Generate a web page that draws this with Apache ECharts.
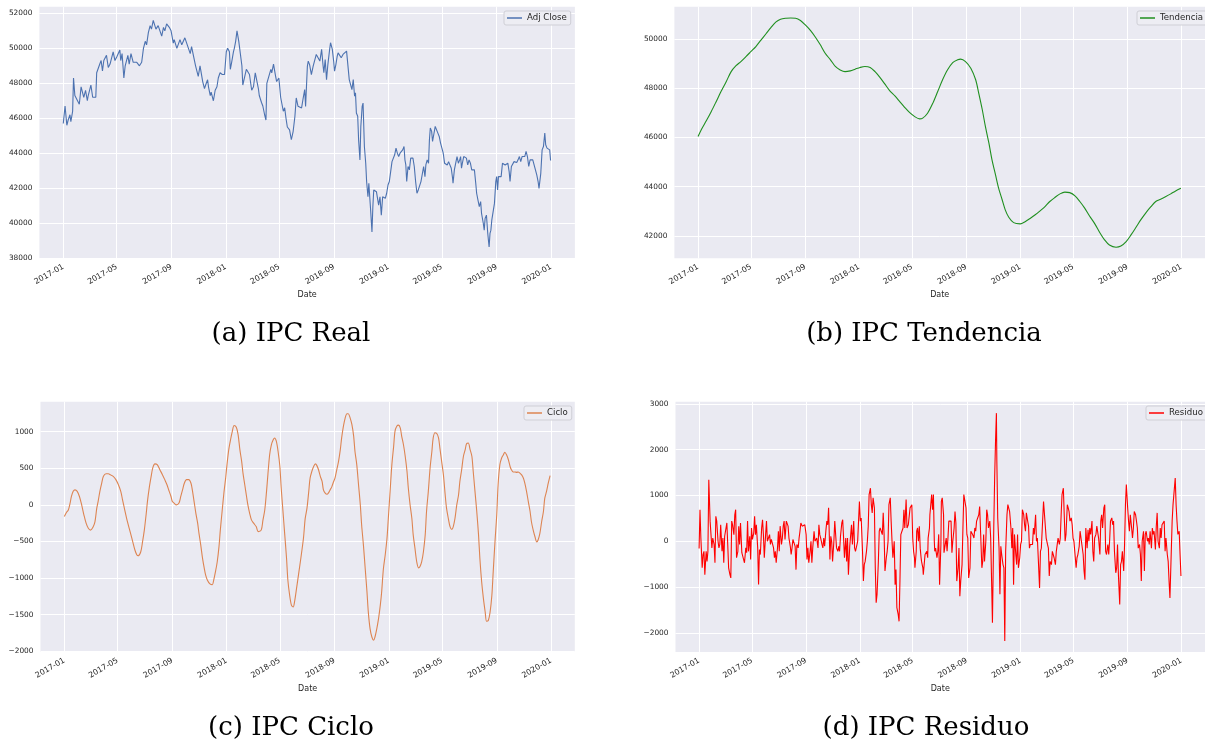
<!DOCTYPE html>
<html>
<head>
<meta charset="utf-8">
<script src="https://cdn.jsdelivr.net/npm/echarts@6/dist/echarts.min.js"></script>
<style>
html,body{margin:0;padding:0;background:#fff;}
#chart{width:1205px;height:747px;}
</style>
</head>
<body>
<div id="chart"></div>
<script>
// x values are days after 2017-01-01
const xTickLabels = ['2017-01','2017-05','2017-09','2018-01','2018-05','2018-09','2019-01','2019-05','2019-09','2020-01'];
const seriesNames = ['Adj Close','Tendencia','Ciclo','Residuo'];
const captions = ['(a) IPC Real','(b) IPC Tendencia','(c) IPC Ciclo','(d) IPC Residuo'];
const yTicksReal = [38000,40000,42000,44000,46000,48000,50000,52000];
const yTicksTrend = [42000,44000,46000,48000,50000];
const yTicksCycle = [-2000,-1500,-1000,-500,0,500,1000];
const yTicksResid = [-2000,-1000,0,1000,2000,3000];

const realData = [
[0,45700],[4,46700],[8,45600],[11,45900],[15,46200],[17,45800],[21,46400],[23,48300],[26,47300],[30,47100],[34,47100],[36,46800],[40,47800],[43,47700],[46,47200],[50,47600],[54,47000],[56,47300],[58,47500],[62,47900],[66,47200],[70,47100],[73,47200],[75,48600],[79,48600],[82,49100],[85,49300],[88,48700],[91,49300],[97,49600],[101,48900],[105,49100],[112,49800],[116,49300],[120,49500],[127,49900],[129,49300],[132,49700],[136,48300],[139,49000],[145,49600],[148,49100],[152,49700],[157,49200],[165,49200],[171,49000],[176,49200],[180,50000],[184,50400],[187,50200],[191,50900],[195,51300],[198,51100],[202,51600],[208,51100],[213,51300],[217,51300],[221,50700],[225,51200],[228,51000],[232,51400],[238,51200],[242,51000],[247,50300],[249,50500],[255,50000],[262,50500],[266,50200],[273,50600],[281,50000],[285,49700],[288,50100],[291,50000],[297,49000],[300,49100],[303,48400],[307,49000],[311,48400],[313,48100],[317,47700],[321,48000],[324,48200],[326,47800],[330,47300],[332,47500],[337,47000],[341,47600],[345,47800],[348,48300],[352,48600],[357,48500],[362,48500],[366,49800],[369,50000],[373,49800],[375,48800],[378,49200],[382,49800],[384,50000],[387,50400],[390,51000],[392,50700],[394,50400],[396,50500],[401,49000],[403,47900],[407,47800],[411,48800],[414,48900],[418,48500],[423,47600],[427,47800],[431,48600],[435,48700],[438,47700],[440,47300],[445,46900],[448,46700],[452,46200],[455,45900],[457,48000],[461,48100],[466,48800],[468,48600],[472,49100],[476,48500],[479,48100],[484,48300],[488,47200],[491,46800],[494,46400],[497,46600],[500,46000],[503,45500],[506,45600],
[508,45340],[512,44770],[516,45240],[520,46100],[523,47160],[527,46680],[531,46780],[535,46590],[538,47060],[542,47640],[544,46680],[548,48980],[550,49270],[553,49070],[557,48500],[561,48980],[565,48880],[568,49650],[572,49740],[576,49270],[580,49940],[583,49070],[585,48600],[588,49360],[591,48210],[594,49070],[598,49940],[600,50320],[602,50410],[604,49940],[607,49270],[609,48690],[612,49070],[615,49550],[617,49740],[621,49650],[624,49460],[628,49650],[632,49740],[636,49840],[639,49840],[642,48210],[645,48120],[648,47640],[651,48210],[654,47260],[656,47450],[658,46300],[661,46110],[663,44770],[666,43620],[668,45530],[671,46680],[673,46870],[676,44380],[679,43430],[681,42380],[684,41510],[686,42280],[688,41510],[690,40750],[693,39500],[695,40940],[697,41900],[700,41990],[703,41800],[705,41900],[708,41030],[711,41510],[714,40460],[717,41510],[720,41610],[723,41420],[726,41710],[729,42180],[732,42380],[735,42950],[738,43520],[741,43620],[744,43910],[747,44290],[750,44000],[753,43810],[756,44000],[759,43910],[762,44190],[765,44380],[767,43620],[769,43330],[771,42380],[774,43240],[777,43050],[780,43720],[783,43810],[785,43720],[788,43240],[791,42380],[794,41710],[797,41900],[800,41900],[803,42380],[806,42380],[809,43240],[812,42660],[814,43330],[817,43620],[820,43430],[822,44770],[824,45440],[827,45250],[829,44670],[832,44770],[835,45530],[838,45440],[841,45150],[844,44960],[847,44580],[850,44290],[853,44000],[856,43430],[859,43430],[862,43330],[865,43520],[868,43520],[871,43140],[874,42570],[875,42280],[878,43050],[881,43430],[884,43810],[887,43430],[890,43620],[892,43810],[894,43140],[896,43430],[899,43810],[902,43810],[905,43720],[908,43330],[911,43620],[914,43430],[917,43050],[920,42950],[923,43050],[926,42280],[928,41710],[931,41320],[934,40940],[937,41230],[939,40560],[943,39980],[945,39600],[947,40270],[950,40460],[953,39410],[956,38640],[958,39410],[960,39600],[962,40170],[965,40080],[968,41130],[971,42380],[973,42660],[975,41900],[977,42660],[980,42760],[983,42660],[986,43430],[989,43520],[992,43330],[995,43240],[998,43430],[1001,42950],[1003,42380],[1006,43240],[1009,43330],[1012,43520],[1015,43430],[1018,43470],[1021,43620],[1024,43810],[1027,43520],[1030,43810],[1033,43850],[1036,43810],[1039,44100],[1042,43810],[1045,43240],[1048,43620],[1051,43520],[1054,43620],[1057,43520],[1060,43050],[1063,42760],[1066,42380],[1068,41990],[1070,41990],[1072,42850],[1075,44190],[1078,44380],[1081,45150],[1083,44480],[1086,44290],[1089,44290],[1092,44190],[1094,43580]
];

const trendData = [
[0,46040],[7,46310],[19,46690],[30,47060],[41,47460],[52,47870],[64,48280],[75,48680],[86,48920],[97,49090],[109,49300],[120,49500],[131,49700],[142,49950],[154,50220],[165,50470],[176,50690],[187,50810],[199,50850],[210,50860],[221,50850],[232,50760],[243,50580],[255,50350],[266,50080],[277,49770],[288,49430],[300,49160],[311,48890],[322,48750],[333,48680],[345,48710],[356,48780],[367,48850],[378,48890],[390,48850],[401,48680],[412,48450],[423,48180],[434,47910],[446,47690],[457,47460],[468,47230],[479,47020],[491,46850],[502,46760],[509,46790],
[520,46990],[532,47400],[543,47870],[554,48350],[565,48750],[577,49050],[588,49160],[595,49190],[606,49090],[618,48820],[629,48350],[636,47800],[644,47130],[651,46450],[659,45770],[666,45090],[674,44480],[681,43940],[689,43470],[696,43060],[704,42760],[715,42540],[730,42490],[741,42580],[753,42720],[764,42860],[775,43020],[786,43190],[797,43400],[809,43570],[820,43710],[831,43780],[842,43760],[854,43630],[865,43400],[876,43130],[887,42810],[899,42490],[910,42140],[921,41840],[932,41630],[947,41540],[958,41590],[970,41770],[981,42040],[992,42340],[1003,42650],[1015,42950],[1026,43190],[1037,43400],[1048,43490],[1060,43600],[1071,43710],[1082,43830],[1094,43940]
];

const cycleData = [
[0,-160],[5,-100],[9,-70],[13,25],[16,115],[20,185],[24,205],[29,185],[34,115],[39,0],[44,-135],[49,-250],[54,-320],[59,-345],[65,-300],[69,-230],[73,-45],[76,45],[80,185],[84,295],[88,390],[94,425],[99,425],[104,410],[110,390],[116,345],[121,285],[127,185],[131,70],[136,-70],[142,-230],[148,-365],[154,-505],[159,-620],[163,-680],[166,-695],[172,-640],[176,-505],[180,-345],[184,-135],[187,45],[191,230],[195,375],[199,505],[204,560],[209,550],[215,480],[221,410],[226,345],[231,275],[236,185],[240,115],[243,45],[247,25],[252,0],[258,25],[262,115],[266,205],[270,295],[275,345],[280,345],[285,295],[288,205],[292,45],[296,-115],[300,-250],[303,-390],[307,-550],[311,-730],[315,-870],[318,-960],[322,-1030],[327,-1075],[333,-1090],[336,-1030],[340,-915],[344,-780],[348,-570],[351,-345],[355,-90],[359,160],[363,365],[366,550],[370,755],[374,890],[378,1005],[382,1085],[387,1060],[391,960],[395,755],[399,595],[402,435],[406,275],[410,115],[413,0],[417,-115],[421,-205],[426,-250],[432,-300],[436,-365],[443,-345],[447,-205],[451,-70],[455,185],[458,410],[462,685],[466,825],[470,890],[473,915],[477,870],[481,730],[485,525],[488,230],[492,-90],[496,-410],[500,-730],[503,-1030],[507,-1235],[511,-1370],[515,-1395],[518,-1325],
[523,-1120],[531,-780],[538,-460],[542,-185],[546,-45],[550,185],[553,365],[557,460],[561,525],[565,560],[568,540],[572,480],[576,390],[580,320],[583,205],[587,160],[591,145],[594,160],[598,205],[602,250],[606,320],[609,365],[613,480],[617,595],[621,755],[624,915],[628,1075],[632,1190],[636,1245],[639,1245],[643,1190],[647,1100],[651,940],[654,730],[658,550],[662,275],[666,0],[669,-275],[673,-550],[677,-870],[681,-1190],[684,-1465],[688,-1695],[692,-1805],[696,-1850],[699,-1805],[703,-1695],[707,-1555],[711,-1370],[714,-1190],[718,-870],[722,-685],[726,-460],[729,-185],[733,185],[737,550],[741,800],[744,1005],[748,1075],[752,1090],[756,1050],[759,940],[763,825],[767,665],[771,460],[774,230],[778,0],[782,-185],[785,-410],[789,-595],[793,-780],[797,-860],[800,-845],[804,-780],[808,-640],[812,-410],[815,-90],[819,185],[823,505],[827,730],[830,915],[834,985],[838,975],[842,915],[845,780],[849,595],[853,410],[857,135],[860,-45],[864,-185],[868,-300],[872,-335],[875,-300],[879,-185],[883,0],[887,135],[890,320],[894,480],[898,665],[902,755],[905,835],[909,845],[913,755],[917,665],[920,460],[924,185],[928,-90],[932,-410],[935,-730],[939,-1050],[943,-1280],[947,-1465],[950,-1590],[954,-1580],[958,-1465],[962,-1235],[965,-915],[969,-505],[973,-135],[976,275],[980,550],[984,640],[988,685],[991,720],[995,685],[999,620],[1003,525],[1006,480],[1010,450],[1014,450],[1018,445],[1021,450],[1025,435],[1029,410],[1033,365],[1036,300],[1040,185],[1044,45],[1048,-90],[1051,-230],[1055,-345],[1059,-435],[1063,-505],[1066,-480],[1070,-390],[1074,-230],[1078,-90],[1081,90],[1085,185],[1089,300],[1093,400]
];

const residData = [
[0,-160],[2,690],[4,70],[7,-580],[9,-290],[11,-220],[13,-730],[16,-220],[18,-440],[20,-220],[22,1345],[25,440],[27,145],[29,-145],[31,70],[34,-70],[36,-470],[38,545],[40,440],[43,0],[45,-145],[47,-70],[49,360],[52,-220],[54,70],[56,-470],[58,110],[61,70],[63,400],[65,-70],[67,-580],[70,-730],[72,-800],[74,440],[76,360],[79,145],[81,580],[83,690],[85,-360],[88,-220],[90,330],[92,-70],[94,400],[97,-250],[99,-250],[101,-290],[103,-470],[106,-145],[108,-250],[110,440],[112,-220],[115,110],[117,-400],[119,290],[121,40],[124,180],[126,545],[128,145],[130,360],[133,-145],[135,-945],[137,-180],[139,-290],[142,290],[144,470],[146,145],[148,-360],[151,145],[153,440],[155,0],[157,-40],[160,145],[162,-70],[164,40],[166,0],[169,-145],[171,-360],[173,-220],[175,-470],[178,-145],[180,220],[182,-220],[184,330],[187,-70],[189,70],[191,330],[193,440],[195,40],[198,440],[200,470],[202,330],[204,70],[207,-110],[209,-290],[211,-145],[213,40],[216,70],[218,-110],[220,-620],[222,-70],[225,-145],[227,70],[229,220],[231,400],[234,330],[236,360],[238,330],[240,360],[243,145],[245,-400],[247,-145],[249,-470],[252,-220],[254,0],[256,-470],[258,-145],[261,220],[263,0],[265,-40],[267,70],[270,-145],[272,360],[274,145],[276,70],[279,-70],[281,-145],[283,70],[285,-110],[288,250],[290,440],[292,360],[294,730],[297,-400],[299,110],[301,0],[303,-440],[306,0],[308,440],[310,470],[312,-145],[315,-220],[317,-110],[319,-220],[321,110],[324,400],[326,470],[328,70],[330,-360],[333,70],[335,-440],[337,70],[339,-730],[342,-110],[344,-70],[346,360],[348,-70],[351,440],[353,-145],[355,-220],[357,-250],[360,0],[362,440],[364,870],[366,440],[368,510],[371,-220],[373,-870],[375,-510],[377,-440],[380,-220],[382,0],[384,330],[386,1020],[389,1160],[391,800],[393,620],[395,950],[398,730],[400,-580],[402,-1345],[404,-1160],[407,-440],[409,220],[411,290],[413,330],[416,145],[418,620],[420,145],[422,-650],[425,-360],[427,-220],[429,0],[431,800],[434,950],[436,440],[438,0],[440,-360],[443,0],[445,-950],[447,-620],[449,-1450],[452,-1600],[454,-1750],[456,-870],[458,145],[461,145],[463,290],[465,690],[467,290],[470,910],[472,290],
[475,360],[479,730],[483,800],[485,70],[487,-220],[489,-360],[490,-580],[493,-220],[494,220],[496,290],[498,0],[500,330],[502,-150],[504,-360],[505,-440],[508,-580],[509,-730],[511,-730],[513,-290],[517,-220],[519,-360],[520,70],[523,290],[524,580],[526,800],[528,1020],[530,690],[532,1020],[534,0],[535,-220],[537,-150],[540,-360],[542,-220],[544,150],[546,-950],[549,-70],[550,870],[552,950],[555,580],[556,-250],[558,-290],[561,70],[563,-220],[565,70],[567,440],[570,400],[572,440],[574,-250],[576,0],[579,290],[581,650],[583,400],[585,-870],[588,-580],[590,-150],[592,-1200],[594,-870],[597,-510],[599,290],[601,1020],[603,1050],[606,730],[608,150],[610,70],[612,-800],[615,-580],[617,220],[619,220],[621,150],[624,70],[626,290],[628,220],[630,440],[633,400],[635,580],[637,760],[639,220],[642,-580],[644,-440],[646,150],[648,-440],[651,0],[653,690],[655,580],[657,290],[660,440],[662,70],[664,-840],[666,-1780],[669,290],[671,1380],[673,2180],[675,2800],[676,1750],[678,510],[681,-150],[683,-1160],[685,-110],[687,-290],[690,-510],[692,-580],[694,-2180],[696,-220],[699,580],[701,800],[703,840],[705,650],[708,290],[710,-150],[712,290],[714,-950],[716,150],[719,-290],[721,-510],[723,150],[725,-580],[728,-360],[730,-70],[732,0],[734,690],[737,580],[739,360],[741,220],[743,620],[746,440],[748,330],[750,-150],[752,-70],[755,-110],[757,-70],[759,290],[761,150],[764,580],[766,0],[768,70],[770,-360],[773,-1020],[775,-220],[777,-150],[779,-150],[782,870],[784,840],[786,870],[788,70],[791,-70],[793,-150],[795,-760],[797,-440],[800,-510],[802,-220],[804,-220],[806,-360],[809,-510],[811,-220],[813,-220],[815,70],[818,-70],[820,70],[822,580],[824,1020],[827,1160],[829,580],[831,0],[833,150],[836,800],[838,730],[840,650],[842,440],[845,510],[847,360],[849,70],[851,0],[854,0],[856,-580],[858,-360],[860,-290],[863,-110],[865,220],[867,250],[869,-70],[872,-290],[874,-650],[876,-840],[878,290],[881,-150],[883,250],[885,0],[887,290],[889,150],[892,440],[894,-220],[896,-440],[898,70],[901,150],[903,330],[905,290],[907,70],[910,-290],[912,440],[914,580],[916,290],[919,730],[921,800],[923,-220],[925,-290],[928,-70],[930,-290],[932,0],[934,440],[937,510],[939,360],[941,440],[943,-220],[946,-690],[948,-580],[950,-70],[952,-730],[955,-1380],[957,-510],[959,-440],[961,-220],[964,-650],[966,-70],[968,800],[970,1240],[973,730],[975,440],[977,220],[979,580],[982,290],[984,70],[986,290],[988,650],[991,580],[993,440],[995,290],[997,-150],[1000,-70],[1002,-290],[1004,-870],[1006,0],[1009,220],[1011,-650],[1013,150],[1015,220],[1018,0],[1020,70],[1022,-70],[1024,220],[1027,-150],[1029,290],[1031,150],[1033,220],[1036,-180],[1038,330],[1040,620],[1042,0],[1045,-150],[1047,290],[1049,70],[1051,360],[1054,360],[1056,440],[1058,-220],[1060,70],[1063,-290],[1065,-440],[1067,-870],[1069,-1240],[1072,-1270],[1074,440],[1076,800],[1078,800],[1081,1380],[1083,800],[1085,440],[1087,150],[1090,220],[1092,-290],[1094,-760]
];

const DAY = 86400000;
const T0 = Date.UTC(2017, 0, 1);
// tick positions in days after 2017-01-01, derived from the tick labels
const xTickDays = xTickLabels.map(s => (Date.UTC(+s.slice(0,4), +s.slice(5,7) - 1, 1) - T0) / DAY);
const fmtX = v => { const i = xTickDays.indexOf(v); return i >= 0 ? xTickLabels[i] : ''; };
const fmtY = v => v < 0 ? '\u2212' + (-v) : String(v);

const datasets = [realData, trendData, cycleData, residData];
const colors = ['#4C72B0', '#1f8f1f', '#DD8452', '#ff0000'];
const yTicks = [yTicksReal, yTicksTrend, yTicksCycle, yTicksResid];
const yRange = [[37990, 52380], [41090, 51320], [-2010, 1410], [-2420, 3050]];
const smoothFlags = [false, 0.3, 0.3, false];

const grids = [
  {left: 39.4, top: 6.7, width: 535.5, height: 251.6},
  {left: 674.4, top: 6.7, width: 535.5, height: 251.6},
  {left: 40.5, top: 401.7, width: 534.3, height: 250.3},
  {left: 675.5, top: 401.7, width: 533.6, height: 250.3}
];
const legendPos = [{left: 504, top: 11}, {left: 1137, top: 11}, {left: 524, top: 406}, {left: 1146, top: 406}];
const captionPos = [[291, 334], [924, 334], [291, 728], [926, 728]];

const FONT = 'DejaVu Sans';
const TXT = '#262626';

const option = {
  animation: false,
  backgroundColor: '#ffffff',
  textStyle: {fontFamily: FONT},
  grid: grids.map(g => Object.assign({show: true, backgroundColor: '#EAEAF2', borderWidth: 0, containLabel: false}, g)),
  xAxis: grids.map((g, i) => ({
    type: 'value', gridIndex: i,
    min: -53.6, max: 1148.6,
    name: 'Date', nameLocation: 'middle', nameGap: 33,
    nameTextStyle: {fontFamily: FONT, fontSize: 8, color: TXT},
    axisLine: {show: false},
    axisTick: {show: false, customValues: xTickDays},
    axisLabel: {customValues: xTickDays, formatter: fmtX, rotate: 30, fontSize: 7.8, color: TXT, fontFamily: FONT, margin: 8, hideOverlap: false},
    splitLine: {show: true, lineStyle: {color: '#ffffff', width: 1}}
  })),
  yAxis: grids.map((g, i) => ({
    type: 'value', gridIndex: i,
    min: yRange[i][0], max: yRange[i][1],
    axisLine: {show: false},
    axisTick: {show: false, customValues: yTicks[i]},
    axisLabel: {customValues: yTicks[i], formatter: fmtY, fontSize: 7.4, color: TXT, fontFamily: FONT, margin: 7},
    splitLine: {show: true, lineStyle: {color: '#ffffff', width: 1}}
  })),
  legend: seriesNames.map((n, i) => ({
    data: [n], left: legendPos[i].left, top: legendPos[i].top, orient: 'vertical',
    icon: 'rect', itemWidth: 15, itemHeight: 1.5,
    padding: [2, 4, 2, 3],
    backgroundColor: '#EDEDF3', borderColor: '#cfcfd6', borderWidth: 1, borderRadius: 2,
    textStyle: {fontFamily: FONT, fontSize: 8.6, color: TXT, lineHeight: 10},
    selectedMode: false
  })),
  series: seriesNames.map((n, i) => ({
    name: n, type: 'line', xAxisIndex: i, yAxisIndex: i,
    data: datasets[i],
    showSymbol: false, symbol: 'none', smooth: smoothFlags[i],
    color: colors[i],
    lineStyle: {color: colors[i], width: 1.1},
    itemStyle: {color: colors[i]},
    emphasis: {disabled: true}
  })),
  graphic: captions.map((c, i) => ({
    type: 'text', x: captionPos[i][0], y: captionPos[i][1],
    style: {text: c, fill: '#000', font: '26px "DejaVu Serif"', textAlign: 'center', textVerticalAlign: 'middle'}
  }))
};

const chart = echarts.init(document.getElementById('chart'), null, {renderer: 'canvas'});
chart.setOption(option);
</script>
</body>
</html>
